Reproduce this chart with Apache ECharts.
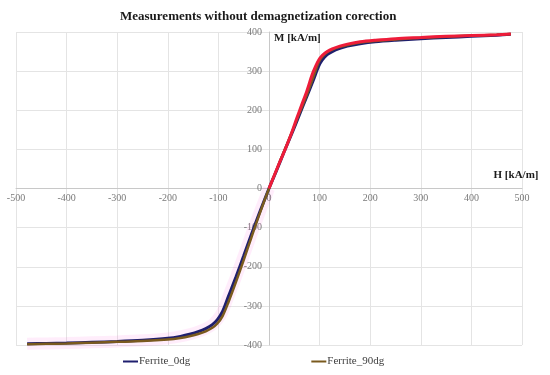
<!DOCTYPE html>
<html>
<head>
<meta charset="utf-8">
<script src="https://cdn.jsdelivr.net/npm/echarts@6/dist/echarts.min.js"></script>
<style>html,body{margin:0;padding:0;background:#fff}#c{width:550px;height:375px}</style>
</head>
<body>
<div id="c"></div>
<script>
// H [kA/m] and M [kA/m]
const navyH = [-478,-440,-400,-350,-300,-250,-200,-175,-155,-140,-125,-112,-102,-92,-80,-65,-50,-35,-20,0,15,30,45,60,75,88,98,105,115,125,140,155,180,210,250,300,350,400,450,478];
const navyM = [-397,-396,-395,-393,-391,-388,-383,-378,-372,-366,-358,-348,-335,-315,-275,-225,-172,-118,-66,0,46,94,140,188,236,278,312,328,342,350,358,364,370,375,379,383,386,389,392,394];
const brownH = [-478,-440,-400,-350,-300,-250,-200,-175,-155,-140,-125,-112,-102,-92,-80,-65,-50,-35,-20,0,15,30,45,60,75,88,98,105,115,125,140,155,180,210,250,300,350,400,450,478];
const brownM = [-398,-397,-396,-394,-392,-390,-386,-382,-377,-372,-365,-356,-345,-327,-290,-238,-183,-126,-70,0,48,96,143,192,240,286,322,336,348,355,362,367,373,377,381,385,388,391,393,395];
const redH = [0,10,20,32,45,55,65,75,85,92,98,105,115,125,140,155,180,210,250,300,350,400,450,478];
const redM = [0,32,64,100,143,180,215,250,290,312,328,340,350,357,364,369,375,379,383,386,389,391,393,395];
const xTicks = {min:-500, max:500, interval:100};
const yTicks = {min:-400, max:400, interval:100};

const pair = (a,b) => a.map((v,i)=>[v,b[i]]);
const lower = (h,m) => pair(h,m).filter(p=>p[0]<=0);
const el = document.getElementById('c');
const chart = echarts.init(el);
const serif = '"Liberation Serif","Times New Roman",serif';
const G = {left:16,right:28,top:32,bottom:30};
const plotW = 550-G.left-G.right, plotH = 375-G.top-G.bottom;
const xOff = -plotW*(0-xTicks.min)/(xTicks.max-xTicks.min);
const yOff = -plotH*(0-yTicks.min)/(yTicks.max-yTicks.min);
chart.setOption({
  animation:false,
  title:{text:'Measurements without demagnetization corection',left:115,top:5,
    textStyle:{fontFamily:serif,fontSize:13,fontWeight:'bold',color:'#1a1a1a'}},
  grid:Object.assign({outerBoundsMode:'none',containLabel:false},G),
  xAxis:{type:'value',min:xTicks.min,max:xTicks.max,interval:xTicks.interval,
    offset:yOff,
    name:'H [kA/m]',nameLocation:'end',nameGap:-6,
    nameTextStyle:{fontFamily:serif,fontSize:11,fontWeight:'bold',color:'#1a1a1a',align:'center',verticalAlign:'bottom',padding:[0,0,8,0]},
    axisLine:{onZero:false,lineStyle:{color:'#c8c8c8',width:1}},axisTick:{show:false},
    axisLabel:{fontFamily:serif,fontSize:10,color:'#7a7a7a',margin:5},
    splitLine:{lineStyle:{color:'#e4e4e4'}}},
  yAxis:{type:'value',min:yTicks.min,max:yTicks.max,interval:yTicks.interval,
    offset:xOff,
    name:'M [kA/m]',nameLocation:'end',nameGap:-6,
    nameTextStyle:{fontFamily:serif,fontSize:11,fontWeight:'bold',color:'#1a1a1a',align:'left',verticalAlign:'middle',padding:[0,0,0,5]},
    axisLine:{onZero:false,lineStyle:{color:'#c8c8c8',width:1}},axisTick:{show:false},
    axisLabel:{fontFamily:serif,fontSize:10,color:'#7a7a7a',margin:7},
    splitLine:{lineStyle:{color:'#e4e4e4'}}},
  legend:{bottom:3,left:118,itemGap:121,itemWidth:15,itemHeight:2,icon:'rect',
    textStyle:{fontFamily:serif,fontSize:11,color:'#404040',padding:[0,0,0,-4]},
    data:['Ferrite_0dg','Ferrite_90dg']},
  series:[
    {name:'glow',type:'line',data:lower(navyH,navyM),showSymbol:false,smooth:0.3,silent:true,
      lineStyle:{color:'rgba(255,80,220,0.10)',width:12},z:1},
    {name:'Ferrite_0dg',type:'line',data:pair(navyH,navyM),showSymbol:false,smooth:0.3,
      lineStyle:{color:'#1f1f6e',width:3},itemStyle:{color:'#1f1f6e'},z:2},
    {name:'Ferrite_90dg',type:'line',data:pair(brownH,brownM),showSymbol:false,smooth:0.3,
      lineStyle:{color:'#7a5a1e',width:2.5},itemStyle:{color:'#7a5a1e'},z:3},
    {name:'red',type:'line',data:pair(redH,redM),showSymbol:false,smooth:0.3,
      lineStyle:{color:'#ee1c3a',width:3},itemStyle:{color:'#ee1c3a'},z:4}
  ]
});
</script>
</body>
</html>
